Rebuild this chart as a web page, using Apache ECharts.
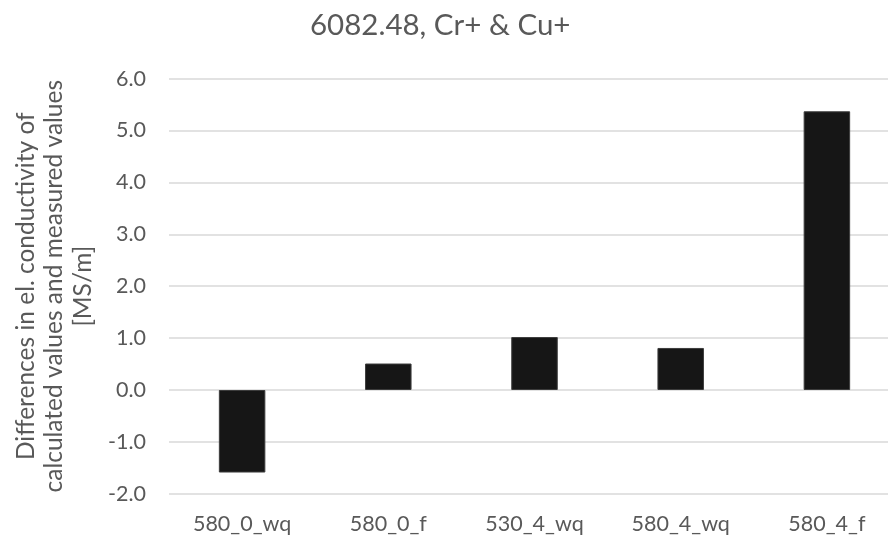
<!DOCTYPE html>
<html>
<head>
<meta charset="utf-8">
<script src="https://cdn.jsdelivr.net/npm/echarts@6/dist/echarts.min.js"></script>
<style>
  html, body { margin: 0; padding: 0; background: #fff; }
  #chart { width: 888px; height: 541px; }
</style>
</head>
<body>
<div id="chart"></div>
<script>
// Sample conditions (temper / ageing / quench) and their conductivity deltas
const categories = ['580_0_wq', '580_0_f', '530_4_wq', '580_4_wq', '580_4_f'];
const differences = [-1.59, 0.51, 1.02, 0.81, 5.37];
const yTicks = { min: -2, max: 6, interval: 1 };

const FONT = 'Lato';
const GREY = '#595959';

const chart = echarts.init(document.getElementById('chart'), null, { renderer: 'canvas' });

chart.setOption({
  backgroundColor: '#ffffff',
  animation: false,
  textStyle: { fontFamily: FONT },
  title: {
    text: '6082.48, Cr+ & Cu+',
    left: 305,
    top: 5,
    textStyle: { fontFamily: FONT, fontSize: 29.5, fontWeight: 'normal', color: GREY }
  },
  // the plot area runs slightly past the right edge of the canvas
  grid: {
    left: 169, top: 78.6, width: 731, height: 415.2,
    containLabel: false, outerBoundsMode: 'none'
  },
  xAxis: {
    type: 'category',
    data: categories,
    axisLine: { show: false, onZero: false },
    axisTick: { show: false },
    axisLabel: { color: GREY, fontFamily: FONT, fontSize: 21.5, margin: 19 },
    splitLine: { show: false }
  },
  yAxis: {
    type: 'value',
    min: yTicks.min,
    max: yTicks.max,
    interval: yTicks.interval,
    name: 'Differences in el. conductivity of\ncalculated values and measured values\n[MS/m]',
    nameLocation: 'middle',
    nameRotate: 90,
    nameGap: 72,
    nameTextStyle: { color: GREY, fontFamily: FONT, fontSize: 24.5, lineHeight: 28.5, align: 'center' },
    axisLine: { show: false },
    axisTick: { show: false },
    axisLabel: {
      color: GREY, fontFamily: FONT, fontSize: 21.5, margin: 23,
      formatter: v => v.toFixed(1)
    },
    splitLine: { show: true, lineStyle: { color: '#d9d9d9', width: 1.5 } }
  },
  series: [{
    type: 'bar',
    data: differences,
    barWidth: 46.5,
    itemStyle: { color: '#161616', borderColor: '#3c3c3c', borderWidth: 1 }
  }]
});
</script>
</body>
</html>
